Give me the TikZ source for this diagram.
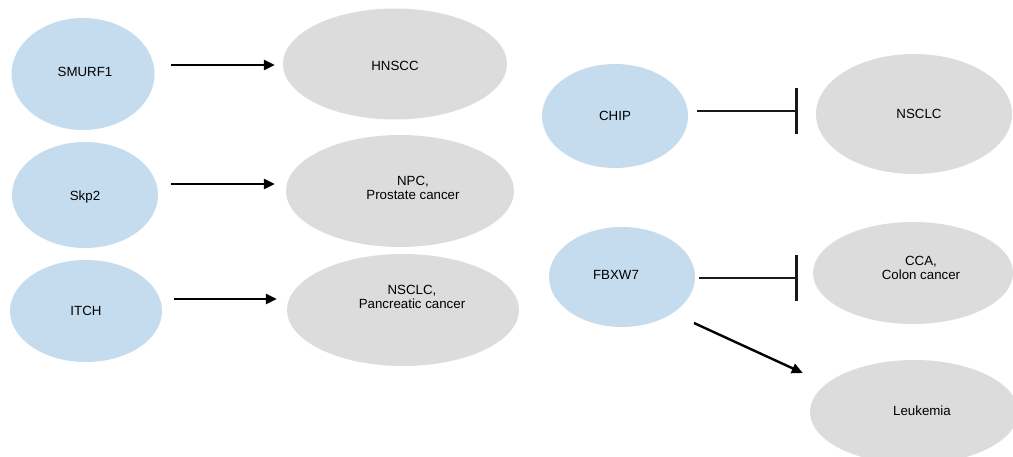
\documentclass[tikz,border=0pt]{standalone}
\usepackage{fontspec}
\setmainfont{Liberation Sans}
\usetikzlibrary{shapes.geometric,arrows.meta}
\definecolor{eblue}{HTML}{C5DCEE}
\definecolor{egray}{HTML}{DCDCDC}
\begin{document}
\begin{tikzpicture}[x=1pt,y=-1pt,
  blueE/.style={ellipse,fill=eblue,draw=none,inner sep=0pt},
  grayE/.style={ellipse,fill=egray,draw=none,inner sep=0pt},
  txt/.style={font=\fontsize{13.3}{14.8}\selectfont,align=center,inner sep=0pt,text=black},
  arr/.style={line width=2.4pt,-{Triangle[length=11pt,width=10pt]}},
  inh/.style={line width=2.2pt,black!90,-{Bar[width=46pt,line width=2.4pt]}}]
\clip (0,0) rectangle (1013,457);
\fill[white] (0,0) rectangle (1013,457);
% ellipses
\node[blueE,minimum width=143pt,minimum height=112pt] (smurf) at (83,74) {};
\node[grayE,minimum width=224pt,minimum height=111pt] (hnscc) at (395,64) {};
\node[blueE,minimum width=146pt,minimum height=106pt] (skp2) at (85,195) {};
\node[grayE,minimum width=228pt,minimum height=112pt] (npc) at (400,191) {};
\node[blueE,minimum width=152pt,minimum height=102pt] (itch) at (86,311) {};
\node[grayE,minimum width=232pt,minimum height=112pt] (nsclcp) at (403,310) {};
\node[blueE,minimum width=146pt,minimum height=104pt] (chip) at (615,116) {};
\node[grayE,minimum width=196pt,minimum height=120pt] (nsclc) at (914,114) {};
\node[blueE,minimum width=146pt,minimum height=100pt] (fbxw7) at (622,277) {};
\node[grayE,minimum width=200pt,minimum height=102pt] (cca) at (913,273) {};
\node[grayE,minimum width=208pt,minimum height=104pt] (leuk) at (914,412) {};
% texts
\node[txt] (smurfT) at (85,72) {SMURF1};
\node[txt] (hnsccT) at (395,66) {HNSCC};
\node[txt] (skp2T) at (85,197) {Skp2};
\node[txt] (npcT) at (413,188) {NPC,\\Prostate cancer};
\node[txt] (itchT) at (86,311) {ITCH};
\node[txt] (nsclcpT) at (412,297) {NSCLC,\\Pancreatic cancer};
\node[txt] (chipT) at (615,116) {CHIP};
\node[txt] (nsclcT) at (919,114) {NSCLC};
\node[txt] (fbxw7T) at (616,275) {FBXW7};
\node[txt] (ccaT) at (921,268) {CCA,\\Colon cancer};
\node[txt] (leukT) at (922,411) {Leukemia};
% connectors
\draw[arr] ([shift={(16.5,-9)}]smurf.east) -- ([shift={(-8,1)}]hnscc.west);
\draw[arr] ([shift={(13,-11)}]skp2.east) -- ([shift={(-11,-7)}]npc.west);
\draw[arr] ([shift={(12,-12)}]itch.east) -- ([shift={(-10,-11)}]nsclcp.west);
\draw[inh] ([shift={(9,-5)}]chip.east) -- ([shift={(-18,-3)}]nsclc.west);
\draw[inh] ([shift={(4,1)}]fbxw7.east) -- ([shift={(-15,5)}]cca.west);
\draw[arr] ([shift={(72,46)}]fbxw7.center) -- ([shift={(-7,-39)}]leuk.west);
\end{tikzpicture}
\end{document}
